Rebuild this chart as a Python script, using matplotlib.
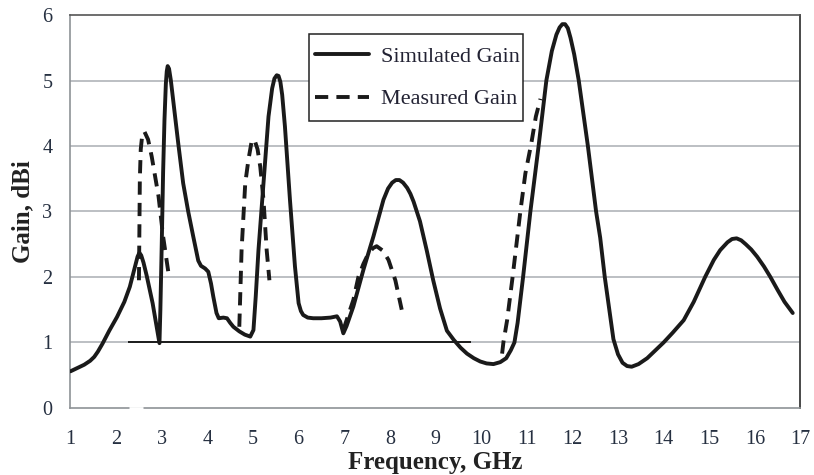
import matplotlib
matplotlib.use("Agg")
import matplotlib.pyplot as plt
from matplotlib.patches import Rectangle

# Simulated gain (dBi) vs frequency (GHz)
sim_freq = [1.00, 1.15, 1.30, 1.43, 1.52, 1.60, 1.70, 1.85, 2.02, 2.18, 2.30, 2.42,
            2.47, 2.51, 2.55, 2.60, 2.67, 2.80, 2.95, 2.97, 3.00, 3.03, 3.06, 3.09,
            3.11, 3.13, 3.16, 3.20, 3.25, 3.36, 3.47, 3.58, 3.69, 3.80, 3.86, 3.95,
            4.02, 4.08, 4.13, 4.20, 4.25, 4.35, 4.43, 4.50, 4.57, 4.70, 4.82, 4.94,
            5.01, 5.06, 5.12, 5.23, 5.34, 5.42, 5.47, 5.52, 5.56, 5.60, 5.64, 5.70,
            5.81, 5.92, 6.00, 6.05, 6.10, 6.20, 6.32, 6.50, 6.70, 6.84, 6.91, 6.98,
            7.05, 7.20, 7.42, 7.64, 7.86, 7.96, 8.05, 8.13, 8.21, 8.29, 8.38, 8.45,
            8.52, 8.66, 8.81, 8.95, 9.03, 9.10, 9.25, 9.40, 9.55, 9.69, 9.84, 9.98,
            10.12, 10.27, 10.42, 10.55, 10.65, 10.73, 10.80, 10.92, 11.08, 11.26,
            11.43, 11.55, 11.65, 11.72, 11.78, 11.84, 11.90, 11.96, 12.04, 12.14,
            12.34, 12.52, 12.61, 12.71, 12.80, 12.90, 13.00, 13.10, 13.20, 13.30,
            13.45, 13.64, 13.85, 14.00, 14.20, 14.44, 14.66, 14.91, 15.10, 15.24,
            15.40, 15.50, 15.60, 15.70, 15.80, 15.92, 16.05, 16.20, 16.34, 16.50,
            16.65, 16.83]
sim_gain = [0.56, 0.61, 0.66, 0.72, 0.78, 0.86, 0.98, 1.18, 1.39, 1.62, 1.85, 2.17,
            2.31, 2.37, 2.33, 2.22, 2.02, 1.60, 0.99, 1.50, 2.50, 3.60, 4.40, 4.95,
            5.14, 5.22, 5.18, 5.00, 4.70, 4.05, 3.43, 3.00, 2.62, 2.25, 2.17, 2.13,
            2.08, 1.90, 1.70, 1.45, 1.37, 1.38, 1.37, 1.30, 1.24, 1.17, 1.12, 1.09,
            1.19, 1.70, 2.41, 3.43, 4.45, 4.88, 5.03, 5.08, 5.07, 4.98, 4.78, 4.30,
            3.18, 2.16, 1.60, 1.48, 1.42, 1.38, 1.37, 1.37, 1.38, 1.40, 1.32, 1.14,
            1.25, 1.55, 2.11, 2.62, 3.18, 3.35, 3.44, 3.48, 3.48, 3.44, 3.36, 3.27,
            3.15, 2.85, 2.40, 1.95, 1.72, 1.52, 1.18, 1.04, 0.92, 0.83, 0.76, 0.71,
            0.68, 0.67, 0.70, 0.76, 0.88, 1.00, 1.30, 2.00, 3.00, 4.00,
            5.00, 5.45, 5.70, 5.81, 5.86, 5.86, 5.80, 5.65, 5.40, 5.00,
            4.00, 3.00, 2.60, 2.00, 1.55, 1.05, 0.82, 0.69, 0.64, 0.63,
            0.67, 0.76, 0.90, 1.00, 1.15, 1.34, 1.62, 2.00, 2.26, 2.41,
            2.53, 2.58, 2.59, 2.56, 2.50, 2.42, 2.31, 2.16, 2.00, 1.80,
            1.62, 1.45]

# Measured gain (dBi), four measured bands
meas1_freq = [2.50, 2.51, 2.52, 2.54, 2.57, 2.62, 2.70, 2.78, 2.93, 3.03, 3.16]
meas1_gain = [1.95, 2.70, 3.50, 3.95, 4.15, 4.22, 4.10, 3.84, 3.23, 2.62, 2.00]
meas2_freq = [4.70, 4.75, 4.83, 4.90, 4.97, 5.03, 5.10, 5.16, 5.23, 5.30, 5.36]
meas2_gain = [1.24, 2.41, 3.43, 3.79, 4.07, 4.10, 3.95, 3.68, 3.18, 2.41, 1.95]
meas3_freq = [6.98, 7.08, 7.20, 7.31, 7.42, 7.53, 7.63, 7.71, 7.85, 7.97, 8.12, 8.26]
meas3_gain = [1.19, 1.40, 1.65, 2.00, 2.20, 2.36, 2.44, 2.47, 2.40, 2.26, 1.95, 1.50]
meas4_freq = [10.46, 10.49, 10.57, 10.69, 10.86, 10.97, 11.10, 11.20, 11.30]
meas4_gain = [0.83, 1.01, 1.34, 2.00, 3.00, 3.58, 4.04, 4.45, 4.72]

# Reference level at 1 dBi
ref_level = 1.0
ref_start, ref_end = 2.25, 9.77

x_ticks = list(range(1, 18))
y_ticks = list(range(0, 7))

serif = ["Liberation Serif", "DejaVu Serif"]
tick_color = "#263041"
grid_color = "#a9aeb3"

fig = plt.figure(figsize=(8.14, 4.75), dpi=100)
ax = fig.add_axes([0.0866, 0.1411, 0.8968, 0.8273])

ax.set_xlim(1, 17)
ax.set_ylim(0, 6)
ax.set_xticks(x_ticks)
ax.set_yticks(y_ticks)

for g in y_ticks[1:-1]:
    ax.axhline(g, color=grid_color, lw=1.1, zorder=1)

ax.hlines(ref_level, ref_start, ref_end, color="black", lw=1.2, zorder=2)

line_sim, = ax.plot(sim_freq, sim_gain, color="#1a1a1a", lw=2.8,
                    solid_joinstyle="round", solid_capstyle="round", zorder=4,
                    label="Simulated Gain")
dash = (0, (3.4, 2.1))
measured = [(meas1_freq, meas1_gain), (meas2_freq, meas2_gain),
            (meas3_freq, meas3_gain), (meas4_freq, meas4_gain)]
line_meas = None
for fx, gy in measured:
    ln, = ax.plot(fx, gy, color="#1a1a1a", lw=2.8, linestyle=dash,
                  dash_capstyle="butt", zorder=3)
    if line_meas is None:
        line_meas = ln
        ln.set_label("Measured Gain")

for side, col, lw in [("left", "#8e9296", 1.2), ("bottom", "#8e9296", 1.2),
                      ("top", "#555555", 1.2), ("right", "#3a3a3a", 1.3)]:
    ax.spines[side].set_color(col)
    ax.spines[side].set_linewidth(lw)

# small break in the baseline
ax.plot([2.28, 2.59], [0, 0], color="white", lw=2.0, clip_on=False, zorder=6,
        solid_capstyle="butt")

ax.tick_params(axis="both", length=0, labelsize=14.5, labelcolor=tick_color)
ax.tick_params(axis="x", pad=15.5)
ax.tick_params(axis="y", pad=13)
for lab in ax.get_xticklabels() + ax.get_yticklabels():
    lab.set_family(serif)

ax.set_xlabel("Frequency, GHz", family=serif, fontsize=18, fontweight="bold",
              color="#222222", labelpad=1.5)
ax.set_ylabel("Gain, dBi", family=serif, fontsize=18, fontweight="bold",
              color="#222222", labelpad=6)

# legend: square white box with a thin dark border
box = Rectangle((0.3267, 0.7303), 0.2932, 0.2214, transform=ax.transAxes,
                facecolor="white", edgecolor="#222222", lw=1.1, zorder=7)
ax.add_patch(box)
leg = ax.legend(handles=[line_sim, line_meas], loc="center left",
                bbox_to_anchor=(0.3355, 0.8397), borderaxespad=0,
                prop={"family": serif, "size": 16}, frameon=False,
                handlelength=2.43, handletextpad=0.5,
                labelspacing=0.97, borderpad=0)
leg.set_zorder(8)
for t in leg.get_texts():
    t.set_color("#222233")

fig.savefig("out.png", dpi=100)
